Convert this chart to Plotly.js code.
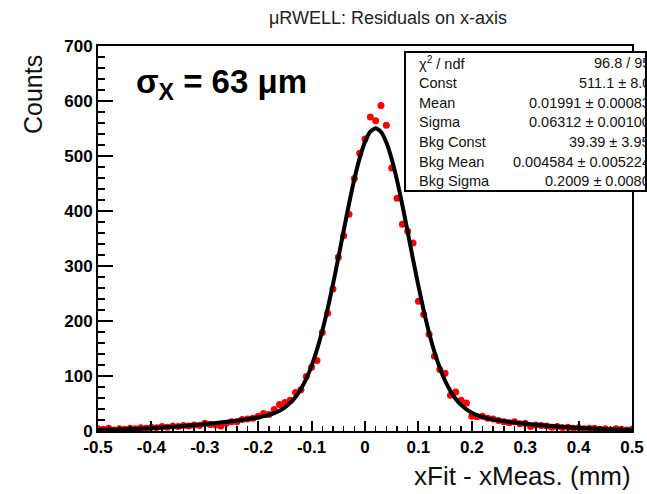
<!DOCTYPE html>
<html>
<head>
<meta charset="utf-8">
<script src="https://cdn.plot.ly/plotly-3.0.1.min.js"></script>
<style>html,body{margin:0;padding:0;background:#fff;}#chart{width:647px;height:494px;}</style>
</head>
<body>
<div id="chart"></div>
<script>
// Histogram bin centres (mm)
const binCenters = [
 -0.50,-0.49,-0.48,-0.47,-0.46,-0.45,-0.44,-0.43,-0.42,-0.41,
 -0.40,-0.39,-0.38,-0.37,-0.36,-0.35,-0.34,-0.33,-0.32,-0.31,
 -0.30,-0.29,-0.28,-0.27,-0.26,-0.25,-0.24,-0.23,-0.22,-0.21,
 -0.20,-0.19,-0.18,-0.17,-0.16,-0.15,-0.14,-0.13,-0.12,-0.11,
 -0.10,-0.09,-0.08,-0.07,-0.06,-0.05,-0.04,-0.03,-0.02,-0.01,
  0.00, 0.01, 0.02, 0.03, 0.04, 0.05, 0.06, 0.07, 0.08, 0.09,
  0.10, 0.11, 0.12, 0.13, 0.14, 0.15, 0.16, 0.17, 0.18, 0.19,
  0.20, 0.21, 0.22, 0.23, 0.24, 0.25, 0.26, 0.27, 0.28, 0.29,
  0.30, 0.31, 0.32, 0.33, 0.34, 0.35, 0.36, 0.37, 0.38, 0.39,
  0.40, 0.41, 0.42, 0.43, 0.44, 0.45, 0.46, 0.47, 0.48, 0.49, 0.50
];
// Histogram counts
const counts = [
  4, 3, 5, 2, 4, 3, 5, 4, 6, 5,
  7, 6, 8, 7, 9, 8, 10, 9, 11, 10,
  14, 12, 11, 9, 14, 17, 17, 21, 22, 23,
  27, 32, 30, 39, 48, 52, 56, 70, 75, 99,
  116, 128, 179, 214, 258, 316, 355, 394, 459, 505,
  531, 571, 564, 592, 556, 478, 423, 376, 363, 342,
  236, 212, 176, 136, 112, 105, 65, 71, 56, 51,
  27, 26, 27, 23, 22, 19, 17, 15, 17, 13,
  14, 8, 11, 10, 9, 7, 8, 6, 7, 5,
  6, 4, 5, 5, 3, 4, 2, 4, 3, 2, 3
];
// Fit curve (double Gaussian) sampled points
const fitX = [
 -0.5,-0.45,-0.4,-0.35,-0.3,-0.25,-0.225,-0.2,-0.19,-0.18,-0.17,-0.16,-0.15,-0.14,-0.13,-0.12,-0.11,
 -0.10,-0.09,-0.08,-0.07,-0.06,-0.05,-0.04,-0.03,-0.02,-0.01,0.00,0.01,0.02,0.03,0.04,0.05,0.06,0.07,
 0.08,0.09,0.10,0.11,0.12,0.13,0.14,0.15,0.16,0.17,0.18,0.19,0.20,0.21,0.22,0.23,0.24,0.25,0.275,0.3,
 0.35,0.4,0.45,0.5
];
const fitY = [
 1.68,3.05,5.18,8.30,12.48,17.71,20.78,24.63,26.67,29.22,32.53,36.96,42.94,51.04,61.92,76.32,94.97,
 118.5,147.5,182.1,222.1,266.7,314.8,364.1,412.7,457.6,496.1,525.7,544.2,550.4,543.7,524.6,494.6,455.6,410.4,
 361.6,311.9,263.7,218.9,178.8,144.1,115.1,91.4,72.7,58.3,47.4,39.3,33.3,28.8,25.5,23.0,21.0,19.35,16.07,13.39,
 8.98,5.68,3.37,1.88
];
// Axis ticks
const xTickVals = [-0.5,-0.4,-0.3,-0.2,-0.1,0,0.1,0.2,0.3,0.4,0.5];
const xTickText = ["-0.5","-0.4","-0.3","-0.2","-0.1","0","0.1","0.2","0.3","0.4","0.5"];
const yTickVals = [0,100,200,300,400,500,600,700];
const yTickText = ["0","100","200","300","400","500","600","700"];
// Stats box
const statNames = ["χ<sup>2</sup> / ndf","Const","Mean","Sigma","Bkg Const","Bkg Mean","Bkg Sigma"];
const statValues = ["96.8 / 95","511.1 ± 8.0","0.01991 ± 0.00083","0.06312 ± 0.00100","39.39 ± 3.95","0.004584 ± 0.005224","0.2009 ± 0.0080"];

const FONT = "Liberation Sans, Arial, sans-serif";
// pixel helpers for the plot frame (l=98, r=632, t=46, b=431)
const PL = 98, PR = 632, PT = 46, PB = 431;
const px = v => (v - PL) / (PR - PL);
const py = v => (PB - v) / (PB - PT);

const traces = [
  {x: binCenters, y: counts, type: 'scatter', mode: 'markers',
   marker: {color: '#ff0000', size: 7}, hoverinfo: 'x+y', showlegend: false},
  {x: fitX, y: fitY, type: 'scatter', mode: 'lines',
   line: {color: '#000000', width: 4, shape: 'spline', smoothing: 0.6}, showlegend: false}
];

const annotations = [];
// statistics box text
for (let i = 0; i < statNames.length; i++) {
  const yc = 63.3 + i * 19.7;
  annotations.push({xref: 'paper', yref: 'paper', x: px(417), y: py(yc), xanchor: 'left', yanchor: 'middle',
    text: statNames[i], showarrow: false, font: {family: FONT, size: 14.5, color: '#111'}});
  annotations.push({xref: 'paper', yref: 'paper', x: px(652), y: py(yc), xanchor: 'right', yanchor: 'middle',
    text: statValues[i], showarrow: false, font: {family: FONT, size: 14.5, color: '#111'}});
}
// sigma label
annotations.push({xref: 'paper', yref: 'paper', x: px(134), y: py(84), xanchor: 'left', yanchor: 'middle',
  text: '<b>σ<sub>X</sub> = 63 μm</b>', showarrow: false, font: {family: FONT, size: 33, color: '#000'}});
// y-axis title
annotations.push({xref: 'paper', yref: 'paper', x: px(33), y: py(95), xanchor: 'center', yanchor: 'middle',
  text: 'Counts', textangle: -90, showarrow: false, font: {family: FONT, size: 25, color: '#111'}});
// x-axis title
annotations.push({xref: 'paper', yref: 'paper', x: px(633), y: py(476), xanchor: 'right', yanchor: 'middle',
  text: 'xFit - xMeas. (mm)', showarrow: false, font: {family: FONT, size: 26, color: '#111'}});

const layout = {
  width: 647, height: 494,
  margin: {l: PL, r: 647 - PR, t: PT, b: 494 - PB, pad: 0},
  paper_bgcolor: '#fff', plot_bgcolor: '#fff',
  showlegend: false,
  title: {text: 'μRWELL: Residuals on x-axis', x: 388 / 647, xanchor: 'center', y: 1 - 18 / 494, yanchor: 'middle',
          font: {family: FONT, size: 18, color: '#222'}},
  xaxis: {range: [-0.5, 0.5], tickmode: 'array', tickvals: xTickVals, ticktext: xTickText,
          ticks: 'inside', ticklen: 10, tickwidth: 2, tickcolor: '#000',
          showline: true, linewidth: 2, linecolor: '#000', mirror: true,
          showgrid: false, zeroline: false,
          tickfont: {family: FONT, size: 17, color: '#000', weight: 'bold'},
          minor: {dtick: 0.02, tick0: 0, ticks: 'inside', ticklen: 5, tickwidth: 1.5, tickcolor: '#000', showgrid: false}},
  yaxis: {range: [0, 700], tickmode: 'array', tickvals: yTickVals, ticktext: yTickText,
          ticks: 'inside', ticklen: 15, tickwidth: 2, tickcolor: '#000',
          showline: true, linewidth: 2, linecolor: '#000', mirror: true,
          showgrid: false, zeroline: false,
          tickfont: {family: FONT, size: 17, color: '#000', weight: 'bold'},
          minor: {dtick: 20, tick0: 0, ticks: 'inside', ticklen: 7, tickwidth: 1.5, tickcolor: '#000', showgrid: false}},
  shapes: [
    {type: 'rect', xref: 'paper', yref: 'paper', x0: px(405), x1: px(646), y0: py(191), y1: py(52),
     line: {color: '#000', width: 2}, fillcolor: '#fff', layer: 'above'}
  ],
  annotations: annotations
};

Plotly.newPlot('chart', traces, layout, {displayModeBar: false, staticPlot: true});
</script>
</body>
</html>
